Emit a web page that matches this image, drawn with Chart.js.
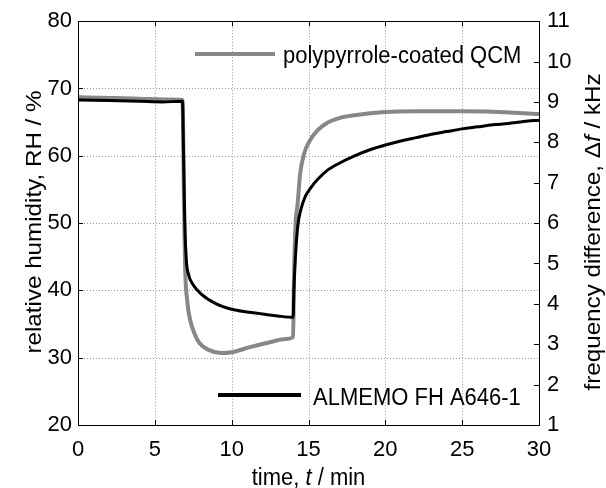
<!DOCTYPE html>
<html>
<head>
<meta charset="utf-8">
<script src="https://cdn.jsdelivr.net/npm/chart.js@4.4.0/dist/chart.umd.min.js"></script>
<style>
  html, body { margin: 0; padding: 0; background: #fff; }
  #wrap { width: 606px; height: 488px; }
</style>
</head>
<body>
<div id="wrap"><canvas id="chart" width="606" height="488"></canvas></div>
<script>
// time axis (min) and the two recorded traces
const timeTicks = [0, 5, 10, 15, 20, 25, 30];
const rhTicks = [20, 30, 40, 50, 60, 70, 80];
const freqTicks = [1, 2, 3, 4, 5, 6, 7, 8, 9, 10, 11];

// ALMEMO FH A646-1 (relative humidity, %)
const almemoTime = [0, 2, 4, 5.5, 6.8, 6.87, 6.95, 7.05, 7.2, 7.5, 8, 9, 10, 11, 12, 13, 14,
  14.05, 14.15, 14.3, 14.5, 14.8, 15.1, 15.6, 16.2, 17, 18, 19, 20, 21, 22, 23, 24, 25, 26, 27, 28, 29, 30];
const almemoRH = [68.3, 68.2, 68.1, 68.0, 68.1, 60, 50, 44.5, 42.3, 40.8, 39.5, 38.0, 37.2, 36.8, 36.5, 36.2, 36.0,
  40, 45, 49.5, 52, 54, 55.1, 56.5, 57.8, 58.9, 60.0, 60.9, 61.6, 62.2, 62.7, 63.2, 63.6, 64.0, 64.3, 64.6, 64.8, 65.1, 65.3];

// polypyrrole-coated QCM (frequency difference, kHz)
const qcmTime = [0, 2, 4, 6, 6.8, 6.9, 6.97, 7.1, 7.3, 7.6, 7.9, 8.5, 9.3, 10, 11.2, 12.5, 13.5, 14,
  14.05, 14.15, 14.3, 14.45, 14.7, 15.1, 15.6, 16.2, 17, 18, 20, 22, 25, 27, 30];
const qcmFreq = [9.12, 9.1, 9.08, 9.06, 9.05, 6.5, 4.9, 4.1, 3.6, 3.25, 3.03, 2.86, 2.78, 2.8, 2.93, 3.05, 3.13, 3.18,
  4.5, 5.9, 6.5, 7.2, 7.7, 8.05, 8.3, 8.48, 8.6, 8.67, 8.75, 8.77, 8.77, 8.76, 8.70];

const fontFamily = "'Liberation Sans', Arial, Helvetica, sans-serif";
const stretch = 1.1;

const toPoints = (xs, ys) => xs.map((x, i) => ({ x: x, y: ys[i] }));

// draw a run of plain / italic pieces centred at (0,0) of the current transform
function richText(ctx, parts, size) {
  let total = 0;
  parts.forEach((p) => {
    ctx.font = (p.italic ? 'italic ' : '') + size + 'px ' + fontFamily;
    p.w = ctx.measureText(p.text).width;
    total += p.w;
  });
  let x = -total / 2;
  parts.forEach((p) => {
    ctx.font = (p.italic ? 'italic ' : '') + size + 'px ' + fontFamily;
    ctx.fillText(p.text, x, 0);
    x += p.w;
  });
}

const framePlugin = {
  id: 'frame',
  beforeDatasetsDraw(chart) {
    const { ctx, chartArea: a, scales } = chart;
    ctx.save();
    ctx.strokeStyle = '#9a9a9a';
    ctx.lineWidth = 1;
    ctx.setLineDash([1, 2]);
    timeTicks.slice(1, -1).forEach((t) => {
      const px = Math.round(scales.x.getPixelForValue(t)) + 0.5;
      ctx.beginPath(); ctx.moveTo(px, a.top); ctx.lineTo(px, a.bottom); ctx.stroke();
    });
    rhTicks.slice(1, -1).forEach((v) => {
      const py = Math.round(scales.y.getPixelForValue(v)) + 0.5;
      ctx.beginPath(); ctx.moveTo(a.left, py); ctx.lineTo(a.right, py); ctx.stroke();
    });
    ctx.restore();
  },
  afterDatasetsDraw(chart) {
    const { ctx, chartArea: a, scales } = chart;
    const tl = 5;
    ctx.save();
    ctx.strokeStyle = '#000';
    ctx.lineWidth = 1;
    ctx.strokeRect(Math.round(a.left) + 0.5, Math.round(a.top) + 0.5,
      Math.round(a.right - a.left), Math.round(a.bottom - a.top));
    ctx.beginPath();
    timeTicks.slice(1, -1).forEach((t) => {
      const px = Math.round(scales.x.getPixelForValue(t)) + 0.5;
      ctx.moveTo(px, a.bottom); ctx.lineTo(px, a.bottom - tl);
      ctx.moveTo(px, a.top); ctx.lineTo(px, a.top + tl);
    });
    rhTicks.slice(1, -1).forEach((v) => {
      const py = Math.round(scales.y.getPixelForValue(v)) + 0.5;
      ctx.moveTo(a.left, py); ctx.lineTo(a.left + tl, py);
    });
    freqTicks.slice(1, -1).forEach((v) => {
      const py = Math.round(scales.y2.getPixelForValue(v)) + 0.5;
      ctx.moveTo(a.right, py); ctx.lineTo(a.right - tl, py);
    });
    ctx.stroke();
    ctx.restore();
  },
  afterDraw(chart) {
    const { ctx, chartArea: a } = chart;
    ctx.save();
    ctx.fillStyle = '#000';
    ctx.textBaseline = 'alphabetic';

    // legend entries
    ctx.lineCap = 'butt';
    ctx.strokeStyle = '#878787';
    ctx.lineWidth = 4;
    ctx.beginPath(); ctx.moveTo(195, 54); ctx.lineTo(275, 54); ctx.stroke();
    ctx.strokeStyle = '#000';
    ctx.lineWidth = 4;
    ctx.beginPath(); ctx.moveTo(218, 395); ctx.lineTo(301, 395); ctx.stroke();

    ctx.font = '22px ' + fontFamily;
    ctx.textAlign = 'left';
    ctx.save(); ctx.translate(283, 63); ctx.scale(1, stretch);
    ctx.fillText('polypyrrole-coated QCM', 0, 0); ctx.restore();
    ctx.save(); ctx.translate(313, 405); ctx.scale(1, stretch);
    ctx.fillText('ALMEMO FH A646-1', 0, 0); ctx.restore();

    // axis titles
    ctx.textAlign = 'left';
    ctx.save(); ctx.translate((a.left + a.right) / 2, 485); ctx.scale(1, stretch);
    richText(ctx, [{ text: 'time, ' }, { text: 't', italic: true }, { text: ' / min' }], 22);
    ctx.restore();

    ctx.save(); ctx.translate(41, 222); ctx.rotate(-Math.PI / 2); ctx.scale(stretch, 1);
    richText(ctx, [{ text: 'relative humidity, RH / %' }], 22);
    ctx.restore();

    ctx.save(); ctx.translate(600, 232); ctx.rotate(-Math.PI / 2); ctx.scale(stretch, 1);
    richText(ctx, [{ text: 'frequency difference, \u0394' }, { text: 'f', italic: true }, { text: ' / kHz' }], 22);
    ctx.restore();

    ctx.restore();
  }
};

const tickFont = { family: fontFamily, size: 22 };

new Chart(document.getElementById('chart').getContext('2d'), {
  type: 'line',
  data: {
    datasets: [
      {
        label: 'ALMEMO FH A646-1',
        data: toPoints(almemoTime, almemoRH),
        yAxisID: 'y',
        borderColor: '#000',
        borderWidth: 3,
        pointRadius: 0,
        cubicInterpolationMode: 'monotone',
        borderJoinStyle: 'round',
        order: 0,
      },
      {
        label: 'polypyrrole-coated QCM',
        data: toPoints(qcmTime, qcmFreq),
        yAxisID: 'y2',
        borderColor: '#878787',
        borderWidth: 4,
        pointRadius: 0,
        cubicInterpolationMode: 'monotone',
        borderJoinStyle: 'round',
        order: 1,
      },
    ],
  },
  options: {
    responsive: false,
    animation: false,
    layout: { padding: { top: 21, left: 0, right: 0, bottom: 0 } },
    plugins: { legend: { display: false }, tooltip: { enabled: false } },
    scales: {
      x: {
        type: 'linear',
        position: 'bottom',
        min: 0,
        max: 30,
        afterBuildTicks: (s) => { s.ticks = timeTicks.map((v) => ({ value: v })); },
        afterFit: (s) => { s.height = 63; },
        grid: { display: false, drawTicks: false },
        border: { display: false },
        ticks: { font: tickFont, color: '#000', padding: 12, maxRotation: 0 },
      },
      y: {
        type: 'linear',
        position: 'left',
        min: 20,
        max: 80,
        afterBuildTicks: (s) => { s.ticks = rhTicks.map((v) => ({ value: v })); },
        afterFit: (s) => { s.width = 78; },
        grid: { display: false, drawTicks: false },
        border: { display: false },
        ticks: { font: tickFont, color: '#000', padding: 6 },
      },
      y2: {
        type: 'linear',
        position: 'right',
        min: 1,
        max: 11,
        afterBuildTicks: (s) => { s.ticks = freqTicks.map((v) => ({ value: v })); },
        afterFit: (s) => { s.width = 67; },
        grid: { display: false, drawTicks: false },
        border: { display: false },
        ticks: { font: tickFont, color: '#000', padding: 8 },
      },
    },
  },
  plugins: [framePlugin],
});
</script>
</body>
</html>
